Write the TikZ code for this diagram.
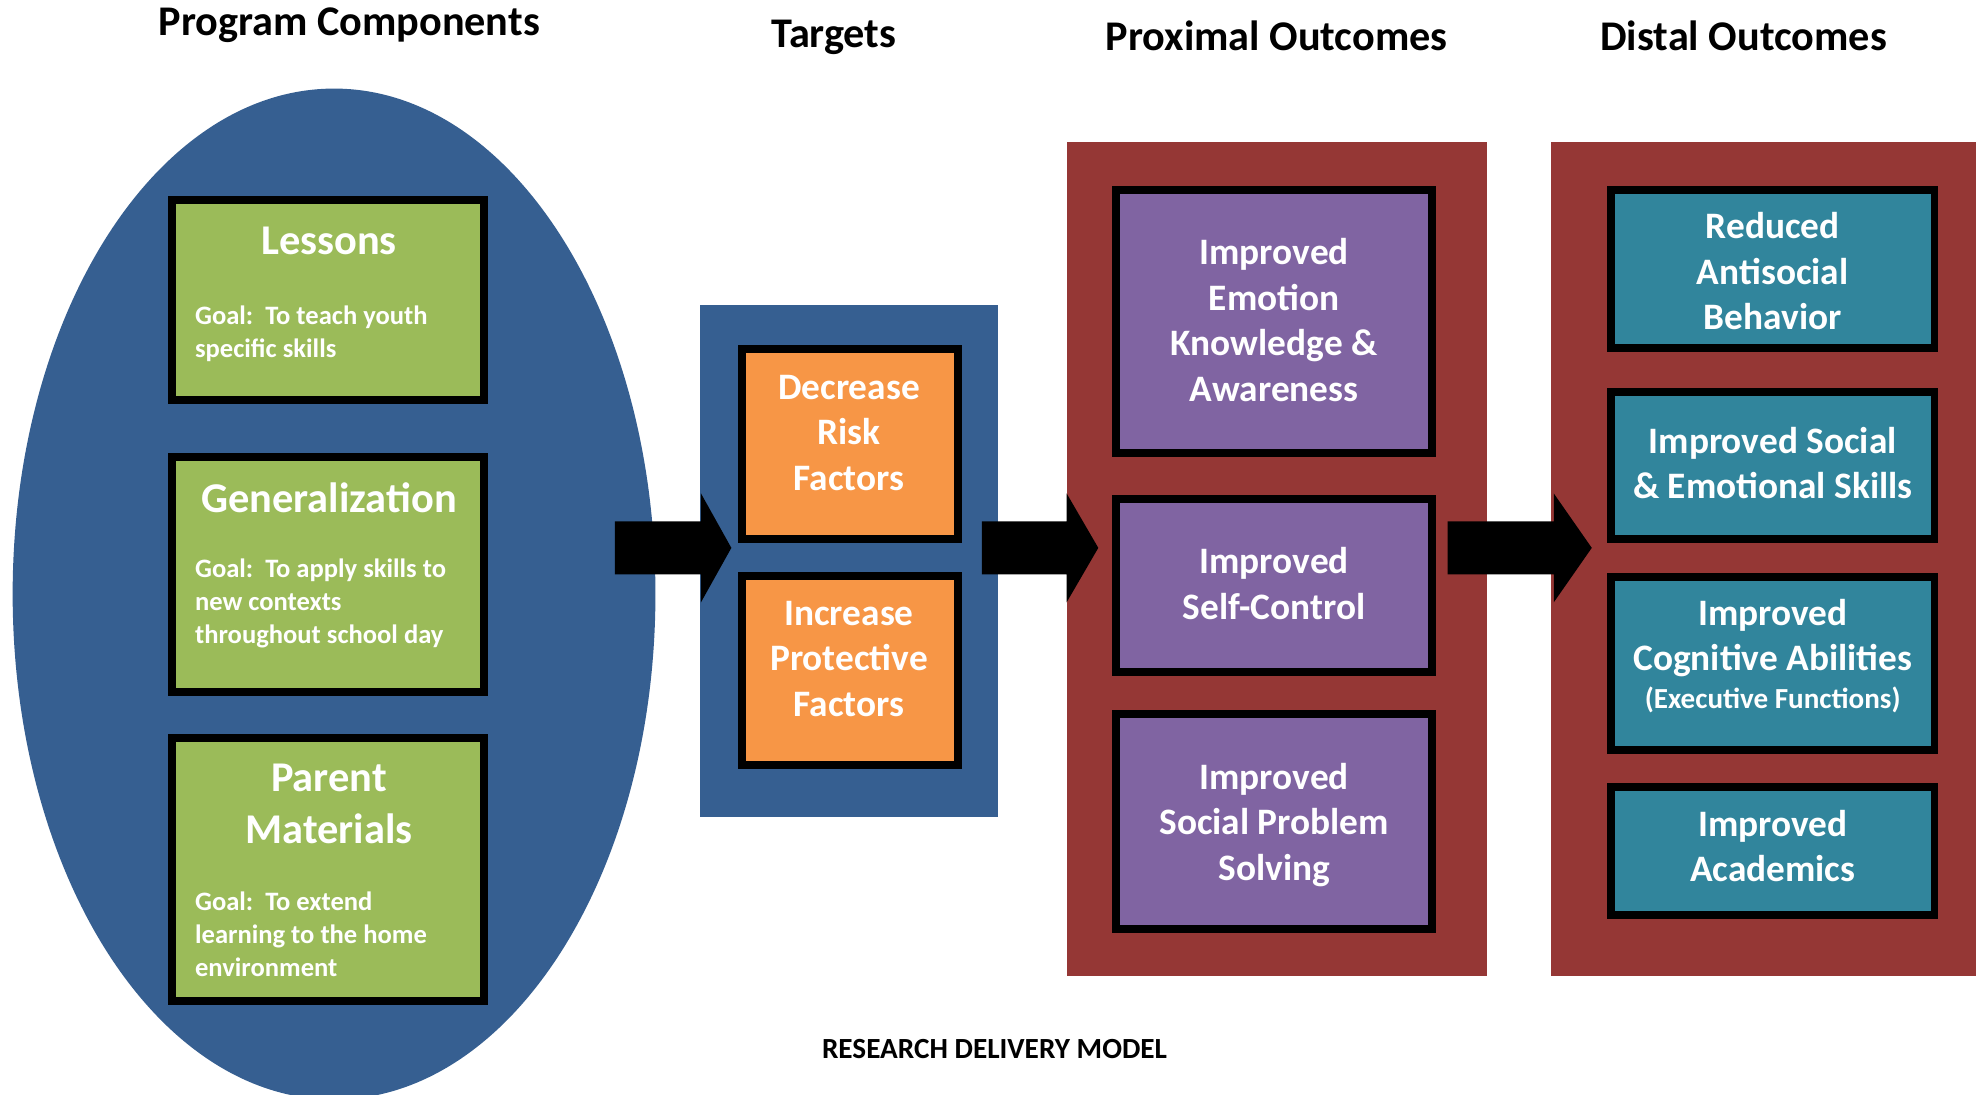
\documentclass[tikz,border=0pt]{standalone}
\usepackage{fontspec}
\setmainfont{Carlito}
\usetikzlibrary{calc,shapes.geometric}
\definecolor{navy}{RGB}{54,95,145}
\definecolor{leaf}{RGB}{155,187,89}
\definecolor{amber}{RGB}{247,150,70}
\definecolor{brick}{RGB}{149,55,53}
\definecolor{plum}{RGB}{128,100,162}
\definecolor{sea}{RGB}{49,133,156}
% #1 start, #2 tip, #3 head length
\newcommand\drawblockarrow[3]{%
  \fill[black] ($(#1)+(0,-21)$) -- ($(#2)+(-#3,-21)$) -- ($(#2)+(-#3,-43)$) -- (#2)
    -- ($(#2)+(-#3,43)$) -- ($(#2)+(-#3,21)$) -- ($(#1)+(0,21)$) -- cycle;}
\begin{document}
\begin{tikzpicture}[x=1pt,y=-1pt,
  cbox/.style={draw=black,line width=6.3pt,inner sep=0pt},
  head/.style={font=\bfseries\fontsize{33.4}{40}\selectfont},
  gtitle/.style={text=white,align=center,inner sep=0pt,font=\bfseries\fontsize{33.5}{41}\selectfont},
  goal/.style={text=white,align=left,inner sep=0pt,font=\bfseries\fontsize{21}{26}\selectfont},
  otext/.style={text=white,align=center,inner sep=0pt,font=\bfseries\fontsize{29.5}{36}\selectfont},
  panel/.style={inner sep=0pt,draw=none}]
\useasboundingbox (0,0) rectangle (1568,865);
\fill[white] (0,0) rectangle (1568,865);
\clip (0,0) rectangle (1568,865);

% headings
\node[head] (hPC) at (276,20) {Program Components};
\node[head] (hT) at (659,29.5) {Targets};
\node[head] (hPO) at (1009,28) {Proximal Outcomes};
\node[head] (hDO) at (1378,28) {Distal Outcomes};
\node[font=\bfseries\fontsize{23.1}{28}\selectfont] (rdm) at (786,829) {RESEARCH DELIVERY MODEL};

% containers
\node[ellipse,fill=navy,inner sep=0pt,minimum width=508,minimum height=799] (pc) at (264,469.5) {};
\node[panel,fill=navy,minimum width=236,minimum height=405] (tg) at (671,443.5) {};
\node[panel,fill=brick,minimum width=332,minimum height=659] (po) at (1009,441.5) {};
\node[panel,fill=brick,minimum width=336,minimum height=659] (do) at (1394,441.5) {};

% block arrows
\coordinate (a1s) at (486,433); \coordinate (a1t) at (578,433);
\coordinate (a2s) at (776,433); \coordinate (a2t) at (868,433);
\coordinate (a3s) at (1144,433); \coordinate (a3t) at (1258,433);
\drawblockarrow{a1s}{a1t}{24}
\drawblockarrow{a2s}{a2t}{25}
\drawblockarrow{a3s}{a3t}{30}

% program components
\node[cbox,fill=leaf,minimum width=246.7,minimum height=157.7] (les) at (259.5,237) {};
\node[gtitle] (lesT) at (260,190) {Lessons};
\node[goal,anchor=west] (lesG) at (154,264) {Goal:\ \ To teach youth\\specific skills};

\node[cbox,fill=leaf,minimum width=246.7,minimum height=185.7] (gen) at (259.5,454) {};
\node[gtitle] (genT) at (260,393) {Generalization};
\node[goal,anchor=west] (genG) at (154,477) {Goal:\ \ To apply skills to\\new contexts\\throughout school day};

\node[cbox,fill=leaf,minimum width=246.7,minimum height=207.7] (par) at (259.5,687) {};
\node[gtitle] (parT) at (260,635.5) {Parent\\Materials};
\node[goal,anchor=west] (parG) at (154,738.5) {Goal:\ \ To extend\\learning to the home\\environment};

% targets
\node[cbox,fill=amber,minimum width=170.7,minimum height=149.7] (dec) at (671.5,351) {};
\node[otext] (decT) at (671,342) {Decrease\\Risk\\Factors};
\node[cbox,fill=amber,minimum width=170.7,minimum height=149.7] (inc) at (671.5,530) {};
\node[otext] (incT) at (671,520.5) {Increase\\Protective\\Factors};

% proximal outcomes
\node[cbox,fill=plum,minimum width=249.7,minimum height=207.7] (emo) at (1007,254) {};
\node[otext] (emoT) at ($(emo)+(0,-1)$) {Improved\\Emotion\\Knowledge \&\\Awareness};
\node[cbox,fill=plum,minimum width=249.7,minimum height=136.7] (sc) at (1007,462.5) {};
\node[otext] (scT) at ($(sc)+(0,-1.5)$) {Improved\\Self-Control};
\node[cbox,fill=plum,minimum width=249.7,minimum height=169.7] (sps) at (1007,649) {};
\node[otext] (spsT) at ($(sps)+(0,3)$) {Improved\\Social Problem\\Solving};

% distal outcomes
\node[cbox,fill=sea,minimum width=255.7,minimum height=124.7] (asb) at (1401,212.5) {};
\node[otext] (asbT) at ($(asb)+(0,2)$) {Reduced\\Antisocial\\Behavior};
\node[cbox,fill=sea,minimum width=255.7,minimum height=115.7] (ses) at (1401,368) {};
\node[otext] (sesT) at ($(ses)+(0,-2)$) {Improved Social\\\& Emotional Skills};
\node[cbox,fill=sea,minimum width=255.7,minimum height=136.7] (cog) at (1401,524.5) {};
\node[otext] (cogT) at ($(cog)+(0,-6)$) {Improved\\Cognitive Abilities\\[-6pt]{\fontsize{23}{28}\selectfont(Executive Functions)}};
\node[cbox,fill=sea,minimum width=255.7,minimum height=100.7] (aca) at (1401,672.5) {};
\node[otext] (acaT) at ($(aca)+(0,-4)$) {Improved\\Academics};
\end{tikzpicture}
\end{document}
